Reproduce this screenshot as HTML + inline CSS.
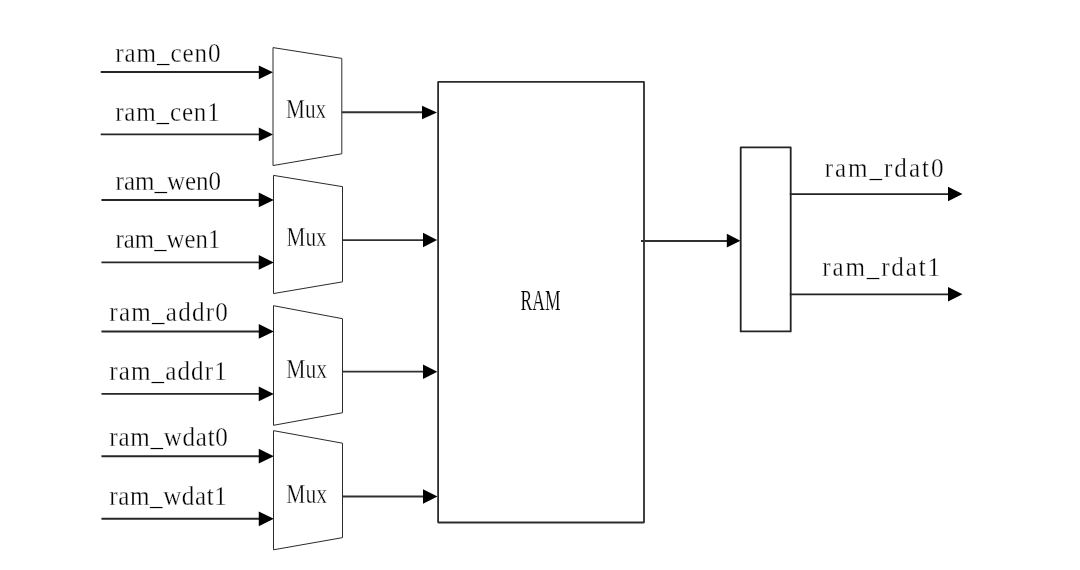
<!DOCTYPE html>
<html lang="en">
<head>
<meta charset="utf-8">
<title>RAM mux diagram</title>
<style>
html,body{margin:0;padding:0;background:#fff;}
body{width:1080px;height:570px;overflow:hidden;}
svg{display:block;will-change:transform;filter:grayscale(1);}
svg text{font-family:"Liberation Serif", serif;}
</style>
</head>
<body>
<svg width="1080" height="570" viewBox="0 0 1080 570">
<rect width="1080" height="570" fill="#fff"/>
<line x1="100.7" y1="72.0" x2="259.80" y2="72.0" stroke="#262626" stroke-width="1.9"/><polygon points="258.80,65.45 273.00,72.3 258.80,79.15" fill="#000"/>
<text transform="translate(115.17 61.7) scale(0.9200 1.02)" font-size="27.3" letter-spacing="1.013" fill="#000" stroke="#fff" stroke-width="0.32" paint-order="fill stroke">ram_cen0</text>
<line x1="100.7" y1="134.4" x2="259.80" y2="134.4" stroke="#262626" stroke-width="1.9"/><polygon points="258.80,127.55 273.00,134.4 258.80,141.25" fill="#000"/>
<text transform="translate(115.17 120.9) scale(0.9200 1.02)" font-size="27.3" letter-spacing="0.873" fill="#000" stroke="#fff" stroke-width="0.32" paint-order="fill stroke">ram_cen1</text>
<line x1="101.45" y1="200.0" x2="259.75" y2="200.0" stroke="#262626" stroke-width="1.9"/><polygon points="258.75,192.58 273.80,199.93 258.75,207.28" fill="#000"/>
<text transform="translate(115.57 189.8) scale(0.9164 1.02)" font-size="27.3" fill="#000" stroke="#fff" stroke-width="0.32" paint-order="fill stroke">ram_wen0</text>
<line x1="101.45" y1="262.4" x2="259.75" y2="262.4" stroke="#262626" stroke-width="1.9"/><polygon points="258.75,255.05 273.80,262.4 258.75,269.75" fill="#000"/>
<text transform="translate(115.58 247.85) scale(0.9101 1.02)" font-size="27.3" fill="#000" stroke="#fff" stroke-width="0.32" paint-order="fill stroke">ram_wen1</text>
<line x1="101.45" y1="331.5" x2="259.75" y2="331.5" stroke="#262626" stroke-width="1.9"/><polygon points="258.75,324.08 273.80,331.43 258.75,338.78" fill="#000"/>
<text transform="translate(109.37 320.85) scale(0.9200 1.02)" font-size="27.3" letter-spacing="1.322" fill="#000" stroke="#fff" stroke-width="0.32" paint-order="fill stroke">ram_addr0</text>
<line x1="101.45" y1="393.9" x2="259.75" y2="393.9" stroke="#262626" stroke-width="1.9"/><polygon points="258.75,386.55 273.80,393.9 258.75,401.25" fill="#000"/>
<text transform="translate(109.37 379.8) scale(0.9200 1.02)" font-size="27.3" letter-spacing="1.170" fill="#000" stroke="#fff" stroke-width="0.32" paint-order="fill stroke">ram_addr1</text>
<line x1="101.45" y1="456.2" x2="259.75" y2="456.2" stroke="#262626" stroke-width="1.9"/><polygon points="258.75,448.85 273.80,456.2 258.75,463.55" fill="#000"/>
<text transform="translate(109.37 445.8) scale(0.9200 1.02)" font-size="27.3" letter-spacing="0.766" fill="#000" stroke="#fff" stroke-width="0.32" paint-order="fill stroke">ram_wdat0</text>
<line x1="101.45" y1="518.8" x2="259.75" y2="518.8" stroke="#262626" stroke-width="1.9"/><polygon points="258.75,511.45 273.80,518.8 258.75,526.15" fill="#000"/>
<text transform="translate(109.37 504.6) scale(0.9200 1.02)" font-size="27.3" letter-spacing="0.604" fill="#000" stroke="#fff" stroke-width="0.32" paint-order="fill stroke">ram_wdat1</text>
<polygon points="273.0,47.6 341.8,58.4 341.8,153.75 273.0,165.55" fill="none" stroke="#2a2a2a" stroke-width="1.0"/>
<line x1="341.8" y1="112.3" x2="423.00" y2="112.3" stroke="#303030" stroke-width="1.9"/><polygon points="422.00,105.75 437.00,112.5 422.00,119.25" fill="#000"/>
<text transform="translate(286.02 118.05) scale(0.7791 1.02)" font-size="27.3" fill="#000" stroke="#fff" stroke-width="0.35" paint-order="fill stroke">Mux</text>
<polygon points="273.5,175.4 342.5,186.65 342.5,281.85 273.5,293.55" fill="none" stroke="#2a2a2a" stroke-width="1.0"/>
<line x1="342.5" y1="240.1" x2="424.00" y2="240.1" stroke="#303030" stroke-width="1.9"/><polygon points="423.00,232.86 437.10,240.06 423.00,247.26" fill="#000"/>
<text transform="translate(286.62 246.2) scale(0.7772 1.02)" font-size="27.3" fill="#000" stroke="#fff" stroke-width="0.35" paint-order="fill stroke">Mux</text>
<polygon points="273.5,305.7 342.5,318.7 342.5,412.75 273.5,425.3" fill="none" stroke="#2a2a2a" stroke-width="1.0"/>
<line x1="342.5" y1="371.6" x2="424.00" y2="371.6" stroke="#303030" stroke-width="1.9"/><polygon points="423.00,364.50 437.30,371.7 423.00,378.90" fill="#000"/>
<text transform="translate(286.31 377.8) scale(0.7891 1.02)" font-size="27.3" fill="#000" stroke="#fff" stroke-width="0.35" paint-order="fill stroke">Mux</text>
<polygon points="273.5,430.65 342.5,443.2 342.5,537.65 273.5,549.8" fill="none" stroke="#2a2a2a" stroke-width="1.0"/>
<line x1="342.5" y1="496.5" x2="424.00" y2="496.5" stroke="#303030" stroke-width="1.9"/><polygon points="423.00,489.35 437.50,496.6 423.00,503.85" fill="#000"/>
<text transform="translate(286.31 502.6) scale(0.7891 1.02)" font-size="27.3" fill="#000" stroke="#fff" stroke-width="0.35" paint-order="fill stroke">Mux</text>
<rect x="438.1" y="81.8" width="205.9" height="440.7" rx="0.4" ry="0.4" fill="none" stroke="#2c2c2c" stroke-width="1.8" stroke-linejoin="round"/>
<text transform="translate(520.59 309.8) scale(0.6412 1.05)" font-size="27.3" fill="#000" stroke="#fff" stroke-width="0.2" paint-order="fill stroke">RAM</text>
<line x1="641" y1="240.95" x2="727.80" y2="240.95" stroke="#303030" stroke-width="1.9"/><polygon points="726.80,233.80 740.40,240.7 726.80,247.60" fill="#000"/>
<rect x="740.7" y="147.4" width="50.0" height="184.0" fill="none" stroke="#222" stroke-width="1.8" stroke-linejoin="round"/>
<line x1="789.8" y1="194.2" x2="949.00" y2="194.2" stroke="#222" stroke-width="1.8"/><polygon points="948.00,186.75 962.50,194.05 948.00,201.35" fill="#000"/>
<line x1="789.8" y1="294.4" x2="949.00" y2="294.4" stroke="#222" stroke-width="1.8"/><polygon points="948.00,286.91 962.50,294.26 948.00,301.61" fill="#000"/>
<text transform="translate(824.67 176.7) scale(0.9200 1.02)" font-size="27.3" letter-spacing="2.124" fill="#000" stroke="#fff" stroke-width="0.32" paint-order="fill stroke">ram_rdat0</text>
<text transform="translate(822.27 275.7) scale(0.9200 1.02)" font-size="27.3" letter-spacing="1.989" fill="#000" stroke="#fff" stroke-width="0.32" paint-order="fill stroke">ram_rdat1</text>
</svg>
</body>
</html>
